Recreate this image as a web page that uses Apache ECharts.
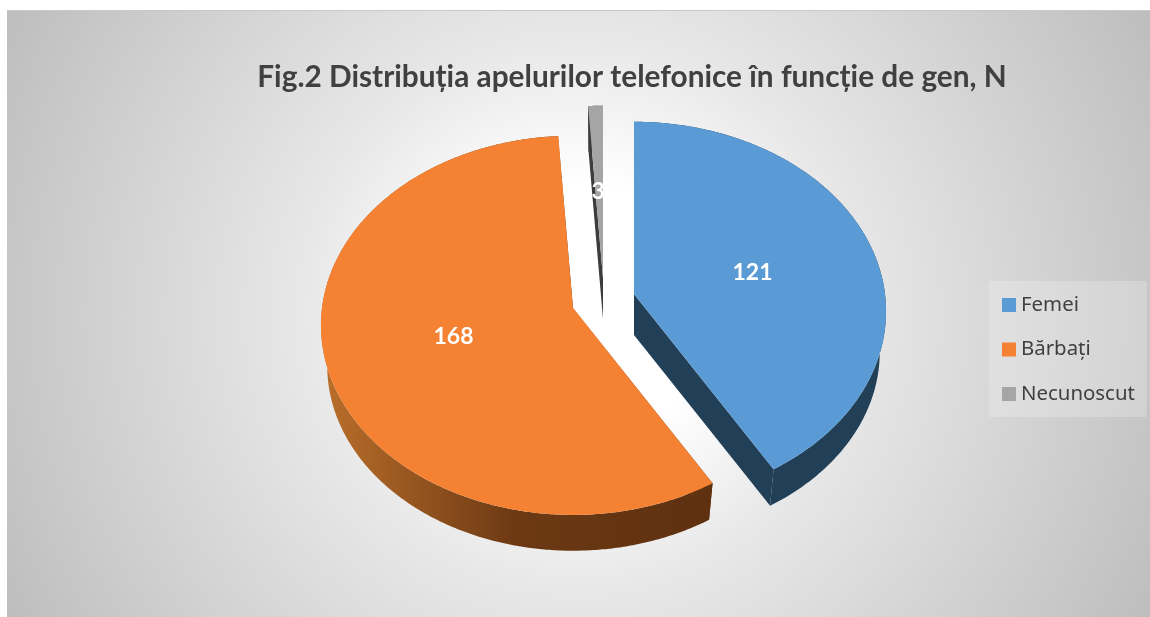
<!DOCTYPE html>
<html>
<head>
<meta charset="utf-8">
<title>Fig.2</title>
<script src="https://cdn.jsdelivr.net/npm/echarts@6/dist/echarts.min.js"></script>
<style>
html,body{margin:0;padding:0;background:#fff;}
#bg{position:absolute;left:7px;top:10px;width:1143px;height:607px;box-sizing:border-box;border-top:1px solid #c9c9c9;
  background:radial-gradient(circle 650px at 50% 50%,#ffffff 0%,#ffffff 20%,#e8e8e8 42%,#c6c6c6 88%,#bdbdbd 100%);}
#chart{position:absolute;left:0;top:0;width:1150px;height:617px;}
</style>
</head>
<body>
<div id="bg"></div>
<div id="chart"></div>
<script>
var titleText = 'Fig.2 Distribuția apelurilor telefonice în funcție de gen, N';
var categories = ['Femei', 'Bărbați', 'Necunoscut'];
var values = [121, 168, 3];
var total = values.reduce(function (a, b) { return a + b; }, 0);

var topColors = ['#5b9bd5', '#f58233', '#a5a5a5'];
// 切片爆炸后顶面的圆心
var centers = [[634, 294], [573, 308], [603, 278]];

// 透视参数
var radiusX = 251, radiusY = 188, persp = 0.0914, depth = 41, bottomScale = 0.975;

function project(center, frac, deg, isBottom) {
  var a = deg * Math.PI / 180;
  var u = Math.sin(a) * frac;
  var v = -Math.cos(a) * frac;
  var s = 1 / (1 - persp * v);
  var k = isBottom ? bottomScale : 1;
  return [center[0] + radiusX * u * s * k, center[1] + radiusY * v * s * k + (isBottom ? depth : 0)];
}

function arc(center, from, to, isBottom) {
  var pts = [];
  var n = Math.max(2, Math.ceil((to - from) * 2));
  for (var i = 0; i <= n; i++) {
    pts.push(project(center, 1, from + (to - from) * i / n, isBottom));
  }
  return pts;
}

function wallFill(idx) {
  if (idx === 0) return '#223f58';
  if (idx === 2) return '#3c3c3c';
  return new echarts.graphic.LinearGradient(0, 0, 1, 0, [
    { offset: 0, color: '#bb6f2b' },
    { offset: 0.5, color: '#6c3913' },
    { offset: 1, color: '#5e3010' }
  ]);
}

function renderSlice(idx) {
  return function (params, api) {
    var before = values.slice(0, idx).reduce(function (a, b) { return a + b; }, 0);
    var from = before / total * 360;
    var to = from + api.value(0) / total * 360;
    var c = centers[idx];
    var topArc = arc(c, from, to, false);
    var botArc = arc(c, from, to, true);
    var mid = (from + to) / 2;
    var labelPos = project(c, 0.5, mid, false);
    var fill = wallFill(idx);
    var apexTop = project(c, 0, 0, false);
    var apexBot = project(c, 0, 0, true);
    return {
      type: 'group',
      children: [
        { type: 'polygon', shape: { points: topArc.concat(botArc.slice().reverse()) }, style: { fill: fill } },
        { type: 'polygon', shape: { points: [apexTop, topArc[0], botArc[0], apexBot] }, style: { fill: fill } },
        { type: 'polygon', shape: { points: [apexTop, topArc[topArc.length - 1], botArc[botArc.length - 1], apexBot] }, style: { fill: fill } },
        { type: 'polygon', shape: { points: [apexTop].concat(topArc) }, style: { fill: topColors[idx] } },
        {
          type: 'text',
          style: {
            text: String(api.value(0)),
            x: labelPos[0] + (idx === 1 ? 2 : -1),
            y: labelPos[1] + (idx === 1 ? 0 : 3),
            align: 'center',
            verticalAlign: 'middle',
            fill: '#ffffff',
            font: 'bold 23px Lato'
          }
        }
      ]
    };
  };
}

var myChart = echarts.init(document.getElementById('chart'));
myChart.setOption({
  animation: false,
  backgroundColor: 'transparent',
  title: {
    text: titleText,
    left: 627,
    top: 57,
    textAlign: 'center',
    textStyle: { color: '#404040', fontFamily: 'Lato', fontWeight: 'bold', fontSize: 29.8 }
  },
  legend: {
    orient: 'vertical',
    left: 989,
    top: 281,
    padding: [14, 12, 13, 13],
    backgroundColor: 'rgba(255,255,255,0.22)',
    icon: 'rect',
    itemWidth: 14,
    itemHeight: 14,
    itemGap: 24.5,
    data: categories,
    textStyle: { color: '#404040', fontFamily: 'Noto Sans', fontSize: 20.4, lineHeight: 20, padding: [0, 0, 0, 0] }
  },
  series: [2, 1, 0].map(function (idx) {
    return {
      type: 'custom',
      name: categories[idx],
      coordinateSystem: 'none',
      itemStyle: { color: topColors[idx] },
      renderItem: renderSlice(idx),
      data: [[values[idx]]]
    };
  })
});
</script>
</body>
</html>
